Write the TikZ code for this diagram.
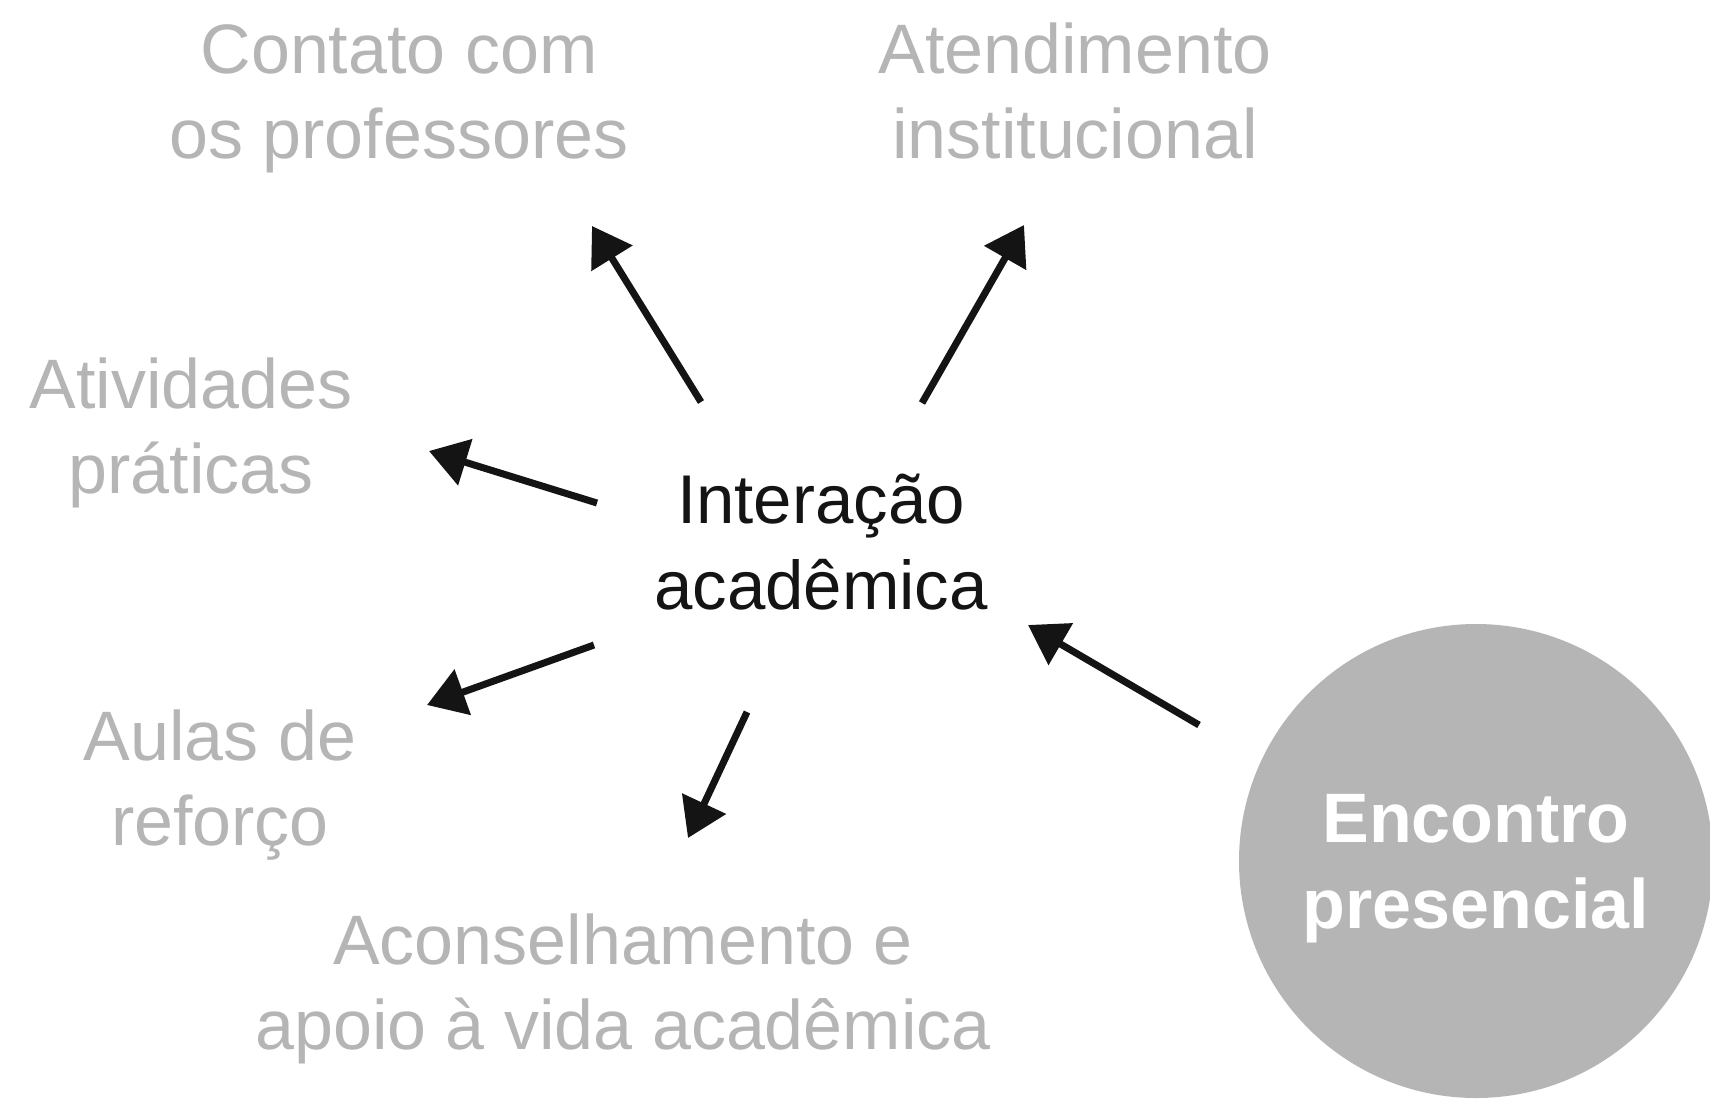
\documentclass[tikz,border=0pt]{standalone}
\usepackage{fontspec}
\setmainfont{Liberation Sans}
\usetikzlibrary{arrows.meta}
\definecolor{softgray}{HTML}{B5B5B5}
\definecolor{inkblack}{HTML}{141414}

\begin{document}
\begin{tikzpicture}[x=1pt,y=1pt,yscale=-1,
    topic/.style={anchor=base, align=center, inner sep=0pt, text=softgray, font=\fontsize{70}{85}\selectfont},
    hub/.style={anchor=base, align=center, inner sep=0pt, text=inkblack, font=\fontsize{69}{86}\selectfont},
    arr/.style={draw=inkblack, line width=7pt, -{Triangle[length=38pt,width=47pt]}}]
    \useasboundingbox (0,0) rectangle (1710,1103);

    % Text Nodes (anchored at the baseline of the last line)
    \node (inter) [hub] at (821,609) {Interação\\acadêmica};
    \node (contato) [topic] at (399,158) {Contato com\\os professores};
    \node (atend) [topic] at (1075,158) {Atendimento\\institucional};
    \node (ativ) [topic] at (191,493) {Atividades\\práticas};
    \node (aulas) [topic] at (220,845) {Aulas de\\reforço};
    \node (acons) [topic] at (623,1049) {Aconselhamento e\\apoio à vida acadêmica};

    % Circle
    \node (meet) [circle, fill=softgray, minimum size=474pt, inner sep=0pt, align=center, text depth=0pt,
        text=white, font=\bfseries\fontsize{70}{86}\selectfont] at (1476,861) {Encontro\\presencial};

    % Arrow ends
    \coordinate (contatoS) at (701,402);  \coordinate (contatoT) at (592,226);
    \coordinate (atendS) at (922,403);    \coordinate (atendT) at (1024,225);
    \coordinate (ativS) at (597,503);     \coordinate (ativT) at (429,451);
    \coordinate (aulasS) at (594,645);    \coordinate (aulasT) at (427,705);
    \coordinate (aconsS) at (747,712);    \coordinate (aconsT) at (688,838);
    \coordinate (meetS) at (1199,725);    \coordinate (meetT) at (1028,625);

    % Arrows
    \draw [arr] (contatoS) -- (contatoT);
    \draw [arr] (atendS) -- (atendT);
    \draw [arr] (ativS) -- (ativT);
    \draw [arr] (aulasS) -- (aulasT);
    \draw [arr] (aconsS) -- (aconsT);
    \draw [arr] (meetS) -- (meetT);

\end{tikzpicture}
\end{document}
